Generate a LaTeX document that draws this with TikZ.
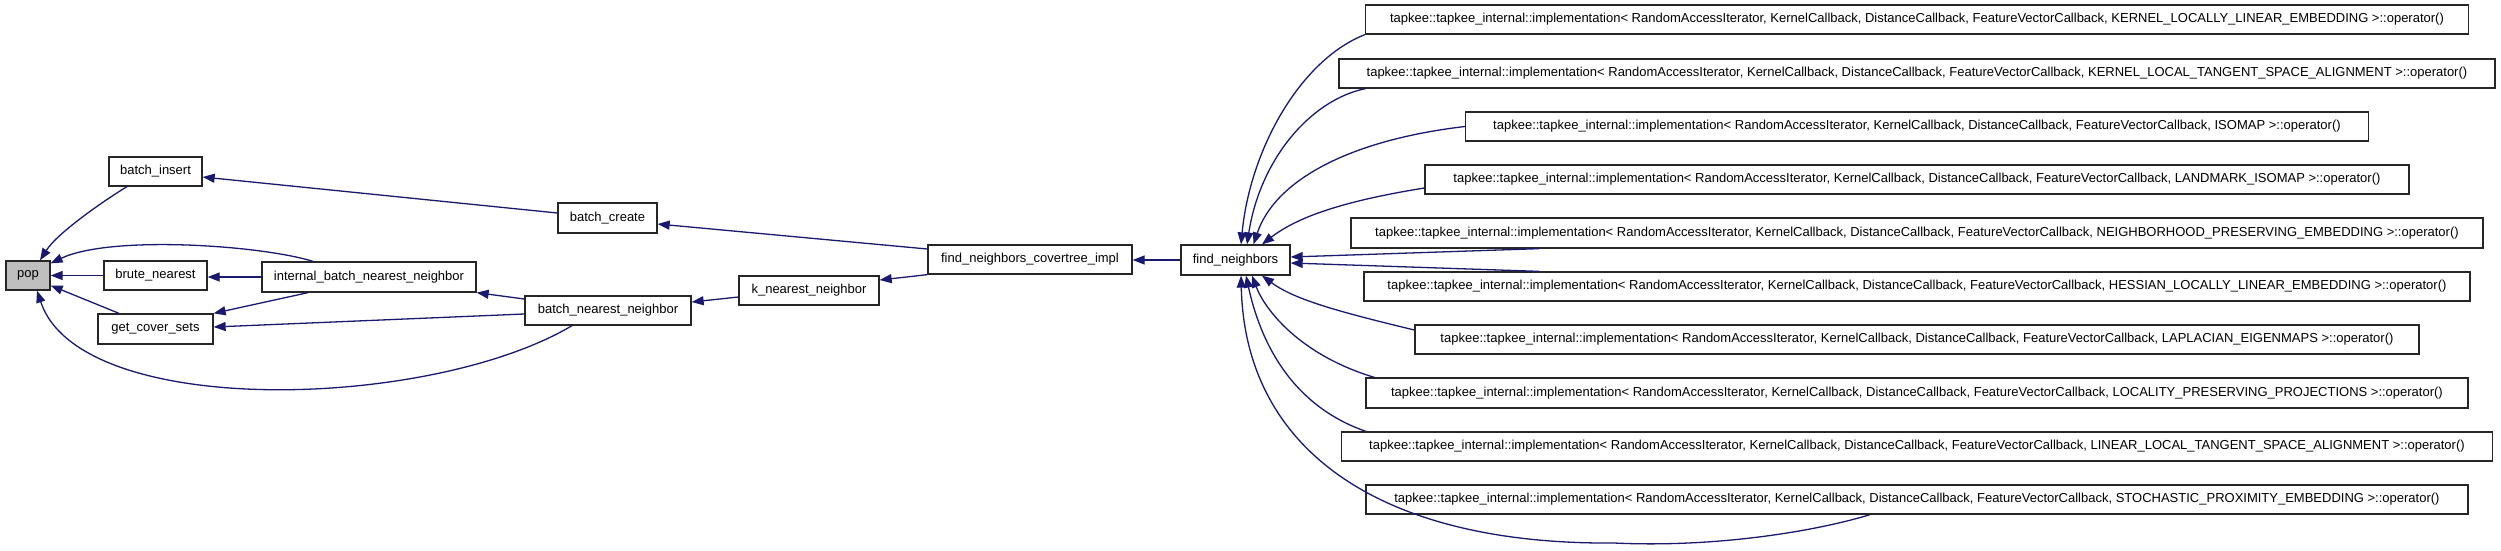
\documentclass[tikz,border=0pt]{standalone}
\usepackage{fontspec}
\setmainfont{Liberation Sans}
\usetikzlibrary{arrows.meta}
\definecolor{edgeblue}{RGB}{25,25,112}
\definecolor{popgray}{RGB}{191,191,191}
\newcommand\tpk[1]{tapkee::tapkee\_internal::implementation< RandomAccessIterator, KernelCallback, DistanceCallback, FeatureVectorCallback, #1 >::operator()}
\begin{document}
\begin{tikzpicture}[x=1pt,y=-1pt,
  box/.style={draw=black!85, line width=1.3pt, fill=white, inner sep=0pt, minimum height=29pt,
    font=\fontsize{13}{15}\selectfont, anchor=center},
  call/.style={draw=edgeblue, line width=1.3pt, -{Triangle[length=12pt,width=9pt,fill=edgeblue]}}
]
\fill[white] (0,0) rectangle (2501,550);
\useasboundingbox (0,0) rectangle (2501,550);

% left part
\node[box, fill=popgray, minimum width=44pt] (pop) at (28,275.5) {pop};
\node[box, minimum width=93pt] (bi) at (155.5,171.5) {batch\_insert};
\node[box, minimum width=103pt] (bn) at (155.5,275.5) {brute\_nearest};
\node[box, minimum width=115pt, minimum height=30pt] (gcs) at (155.5,329) {get\_cover\_sets};
\node[box, minimum width=214pt, minimum height=30pt] (ibnn) at (369,277) {internal\_batch\_nearest\_neighbor};
\node[box, minimum width=99pt, minimum height=30pt] (bc) at (607.5,218) {batch\_create};
\node[box, minimum width=166pt] (bnn) at (608,310.5) {batch\_nearest\_neighbor};
\node[box, minimum width=140pt] (kn) at (809,290.5) {k\_nearest\_neighbor};
\node[box, minimum width=204pt] (ct) at (1030,259.5) {find\_neighbors\_covertree\_impl};
\node[box, minimum width=109pt, minimum height=30pt] (fn) at (1235.5,260) {find\_neighbors};

% tapkee boxes
\node[box, minimum width=1103pt] (t1) at (1917,19.5) {\tpk{KERNEL\_LOCALLY\_LINEAR\_EMBEDDING}};
\node[box, minimum width=1156pt] (t2) at (1917,73.5) {\tpk{KERNEL\_LOCAL\_TANGENT\_SPACE\_ALIGNMENT}};
\node[box, minimum width=903pt] (t3) at (1917,126.5) {\tpk{ISOMAP}};
\node[box, minimum width=984pt] (t4) at (1917,179.5) {\tpk{LANDMARK\_ISOMAP}};
\node[box, minimum width=1132pt, minimum height=30pt] (t5) at (1917,233) {\tpk{NEIGHBORHOOD\_PRESERVING\_EMBEDDING}};
\node[box, minimum width=1106pt] (t6) at (1917,286.5) {\tpk{HESSIAN\_LOCALLY\_LINEAR\_EMBEDDING}};
\node[box, minimum width=1004pt] (t7) at (1917,339.5) {\tpk{LAPLACIAN\_EIGENMAPS}};
\node[box, minimum width=1102pt, minimum height=30pt] (t8) at (1917,393) {\tpk{LOCALITY\_PRESERVING\_PROJECTIONS}};
\node[box, minimum width=1151pt] (t9) at (1917,446.5) {\tpk{LINEAR\_LOCAL\_TANGENT\_SPACE\_ALIGNMENT}};
\node[box, minimum width=1102pt] (t10) at (1917,499.5) {\tpk{STOCHASTIC\_PROXIMITY\_EMBEDDING}};

\coordinate (t10dip) at (1614,543);

% connectors, left part
\draw[call] ([xshift=-28.5pt]bi.south) .. controls (108,198) and (58,232) .. ([xshift=12pt]pop.north);
\draw[call] ([xshift=-56pt]ibnn.north) .. controls (260,245) and (110,235) .. ([yshift=-3pt]pop.north east);
\draw[call] (bn.west) -- (pop.east);
\draw[call] ([xshift=-36.5pt]gcs.north) -- ([yshift=-10pt]pop.east);
\draw[call] ([xshift=-36pt]bnn.south) .. controls (430,410) and (80,420) .. ([xshift=9pt]pop.south);
\draw[call] (ibnn.west) -- (ibnn.west -| bn.east);
\draw[call] ([xshift=-61pt]ibnn.south) -- (gcs.north east);
\draw[call] ([yshift=-3.5pt]bnn.west) -- ([yshift=2pt]gcs.east);
\draw[call] ([yshift=11.5pt]bnn.west) -- (ibnn.south east);
\draw[call] ([yshift=5pt]bc.west) -- ([yshift=-5.5pt]bi.east);
\draw[call] ([yshift=-6.5pt]kn.west) -- ([yshift=8.5pt]bnn.east);
\draw[call] ([yshift=10.5pt]ct.west) -- ([yshift=-6pt]bc.east);
\draw[call] (ct.south west) -- ([yshift=10.5pt]kn.east);
\draw[call] (fn.west) -- (fn.west -| ct.east);

% connectors, tapkee
\draw[call] (t1.south west) .. controls (1300,60) and (1250,150) .. ([xshift=5.5pt]fn.north);
\draw[call] ([xshift=27pt]t2.south west) .. controls (1310,100) and (1260,160) .. ([xshift=11.5pt]fn.north);
\draw[call] (t3.west) .. controls (1350,140) and (1275,180) .. ([xshift=18pt]fn.north);
\draw[call] ([yshift=-8.5pt]t4.west) .. controls (1350,200) and (1300,215) .. ([xshift=26.5pt]fn.north);
\draw[call] ([xshift=-378pt]t5.south) -- ([yshift=3pt]fn.east);
\draw[call] ([xshift=-378pt]t6.north) -- ([yshift=-3pt]fn.east);
\draw[call] ([yshift=9.5pt]t7.west) .. controls (1340,312) and (1295,300) .. ([xshift=26.5pt]fn.south);
\draw[call] ([xshift=9pt]t8.north west) .. controls (1300,355) and (1265,310) .. ([xshift=16.5pt]fn.south);
\draw[call] ([xshift=25pt]t9.north west) .. controls (1290,405) and (1260,340) .. ([xshift=10.5pt]fn.south);
\draw[call] ([xshift=-47pt]t10.south) .. controls (1820,530) and (1720,548) .. (t10dip) .. controls (1380,545) and (1245,450) .. ([xshift=5.5pt]fn.south);
\end{tikzpicture}
\end{document}
